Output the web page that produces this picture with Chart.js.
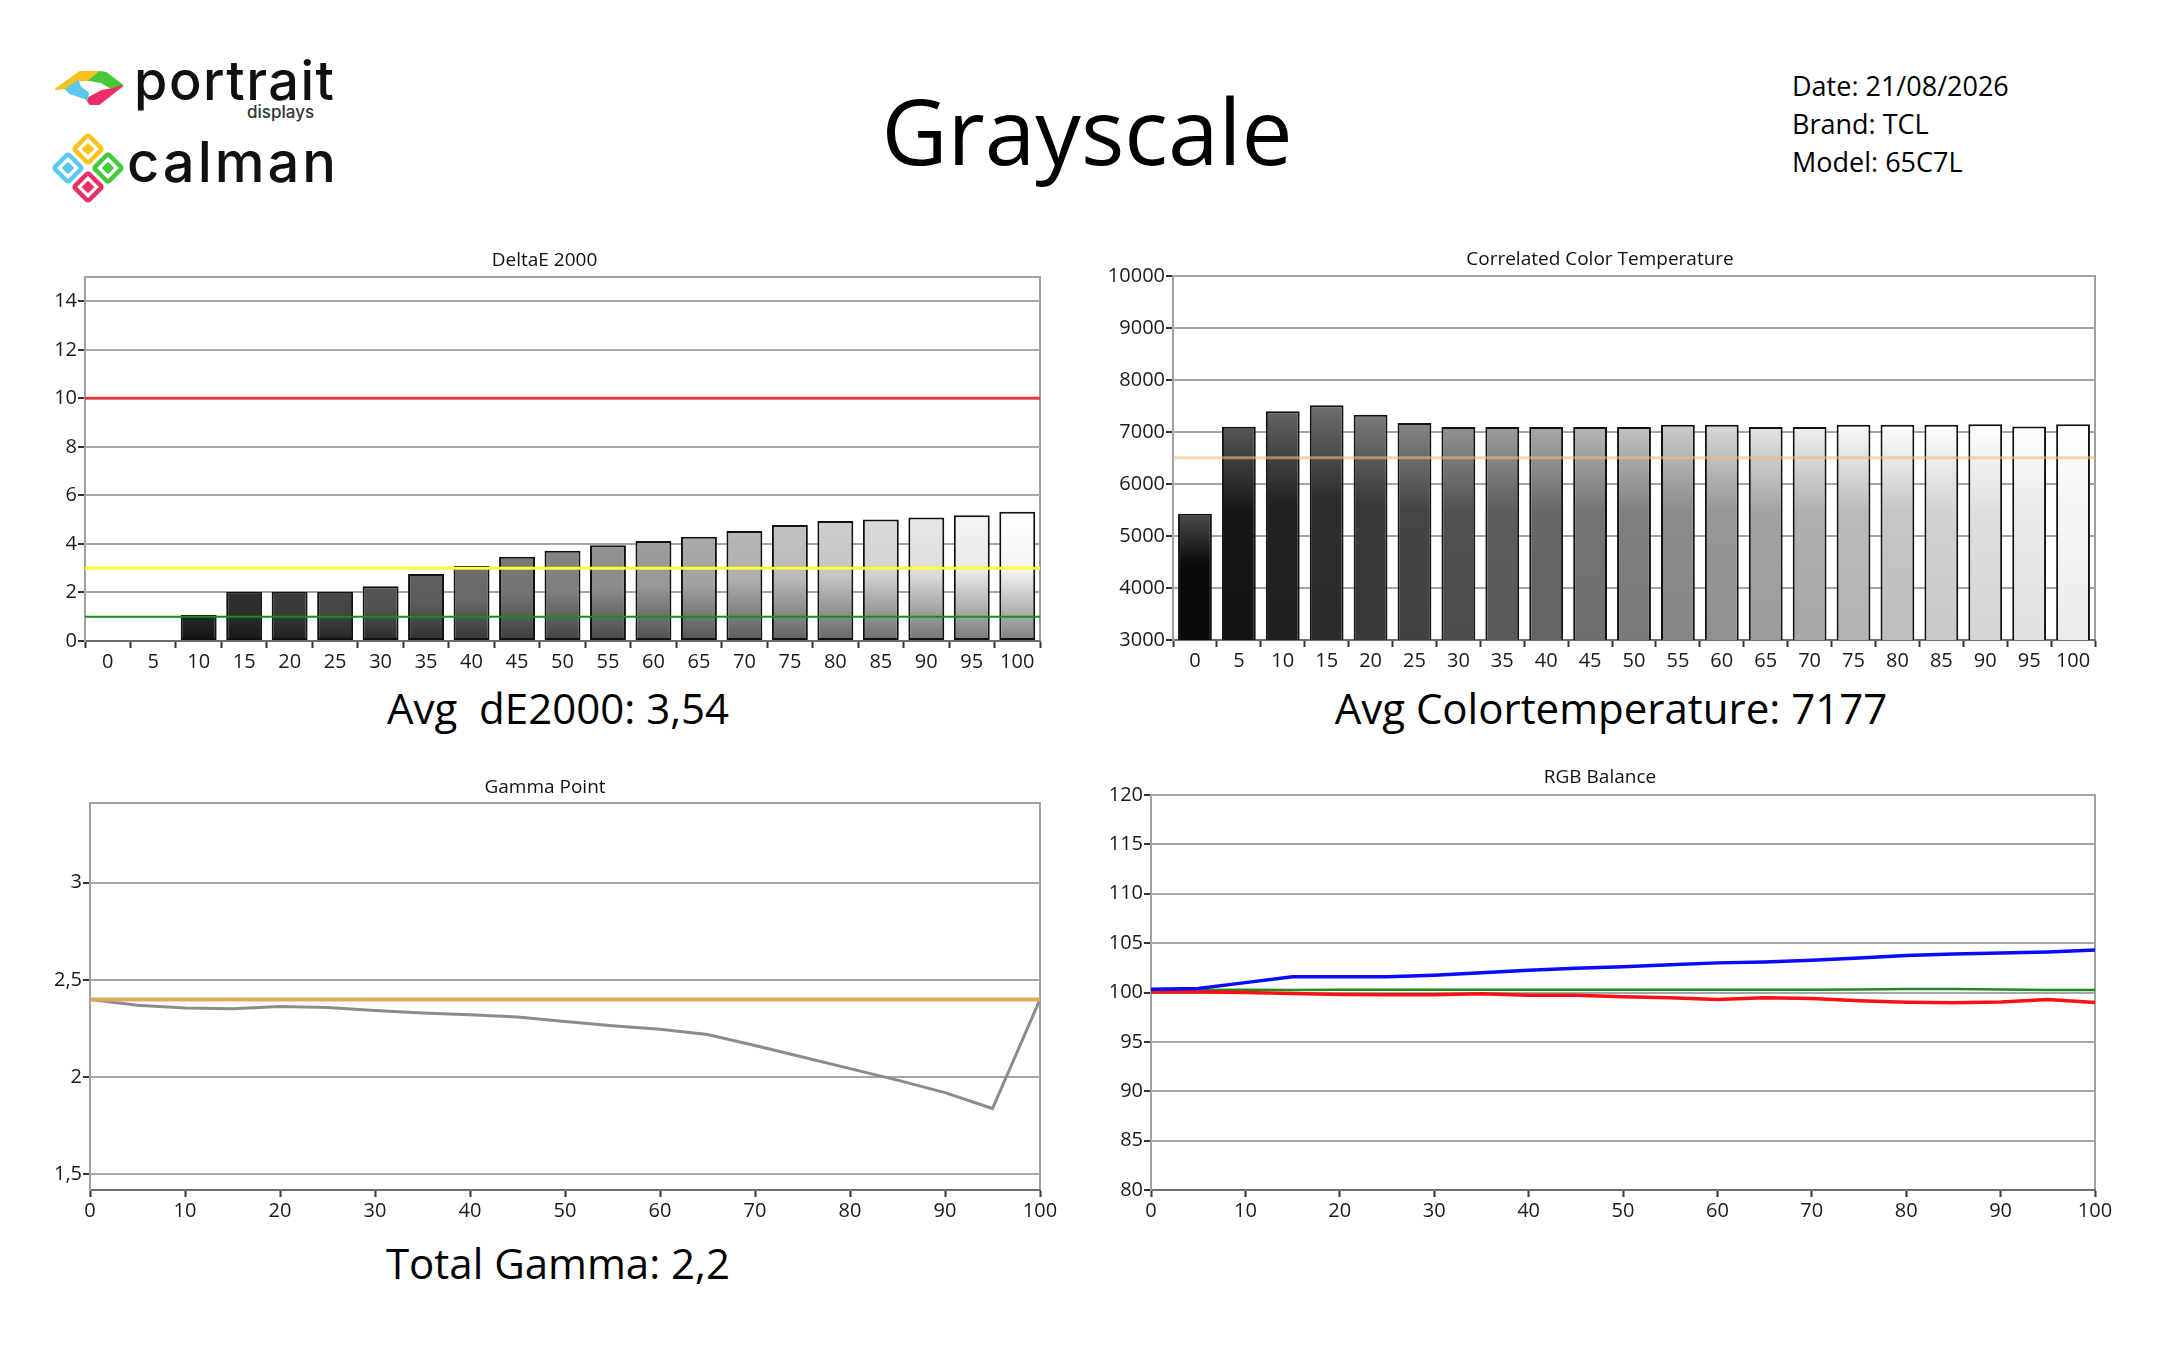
<!DOCTYPE html>
<html>
<head>
<meta charset="utf-8">
<title>Grayscale</title>
<script src="https://cdn.jsdelivr.net/npm/chart.js@4.4.1/dist/chart.umd.min.js"></script>
<style>
  html, body { margin: 0; padding: 0; background: #fff; }
  #page { position: relative; width: 2160px; height: 1350px; overflow: hidden; background: #fff; }
  #deco { position: absolute; left: 0; top: 0; }
  canvas { position: absolute; }
  #deco text { font-family: "Open Sans", "Noto Sans", sans-serif; fill: #000; white-space: pre; }
  #deco .logo { font-family: "Inter", "DejaVu Sans", sans-serif; font-weight: 600; fill: #111; }
</style>
</head>
<body>
<div id="page">
  <svg id="deco" width="2160" height="1350" viewBox="0 0 2160 1350" xmlns="http://www.w3.org/2000/svg">
    <!-- portrait displays mark -->
    <g transform="translate(55,70)" stroke-linejoin="round">
      <polygon points="1,19 25,2 45,2 35,10 23,10 11,18" fill="#f7c21b" stroke="#f7c21b" stroke-width="2"/>
      <polygon points="45,2 51,3 67,15 58,19 46,12 35,10" fill="#45c83a" stroke="#45c83a" stroke-width="2"/>
      <polygon points="67,16 44,34 35,34 32,29 47,21 58,19" fill="#ea2f68" stroke="#ea2f68" stroke-width="2"/>
      <polygon points="11,19 23,11 25,17 33,23 32,29 15,23" fill="#5cc8f2" stroke="#5cc8f2" stroke-width="2"/>
    </g>
    <text class="logo" x="134" y="100" font-size="54" letter-spacing="1.5" style="font-weight:500">portrait</text>
    <text class="logo" x="247" y="118" font-size="17" style="fill:#333;font-weight:500">displays</text>

    <!-- calman mark -->
    <g transform="translate(58,138)">
      <rect x="20" y="1" width="20" height="20" rx="2" transform="rotate(45 30 11)" fill="none" stroke="#f7c21b" stroke-width="4.5"/>
      <rect x="25.5" y="6.5" width="9" height="9" transform="rotate(45 30 11)" fill="#f7c21b"/>
      <rect x="40" y="20" width="20" height="20" rx="2" transform="rotate(45 50 30)" fill="none" stroke="#45c83a" stroke-width="4.5"/>
      <rect x="45.5" y="25.5" width="9" height="9" transform="rotate(45 50 30)" fill="#45c83a"/>
      <rect x="20" y="39" width="20" height="20" rx="2" transform="rotate(45 30 49)" fill="none" stroke="#ea2f68" stroke-width="4.5"/>
      <rect x="25.5" y="44.5" width="9" height="9" transform="rotate(45 30 49)" fill="#ea2f68"/>
      <rect x="0" y="20" width="20" height="20" rx="2" transform="rotate(45 10 30)" fill="none" stroke="#5cc8f2" stroke-width="4.5"/>
      <rect x="5.5" y="25.5" width="9" height="9" transform="rotate(45 10 30)" fill="#5cc8f2"/>
    </g>
    <text class="logo" x="127" y="182" font-size="56" letter-spacing="3" style="font-weight:500">calman</text>

    <text x="1087" y="165" font-size="91" text-anchor="middle">Grayscale</text>

    <text x="1792" y="96" font-size="27">Date: 21/08/2026</text>
    <text x="1792" y="134" font-size="27">Brand: TCL</text>
    <text x="1792" y="172" font-size="27">Model: 65C7L</text>

    <text x="558" y="724" font-size="42" text-anchor="middle">Avg  dE2000: 3,54</text>
    <text x="1611" y="724" font-size="42" text-anchor="middle">Avg Colortemperature: 7177</text>
    <text x="558" y="1279" font-size="42" text-anchor="middle">Total Gamma: 2,2</text>
  </svg>

  <canvas id="deChart" width="1055" height="442" style="left:0;top:249px"></canvas>
  <canvas id="cctChart" width="1030" height="442" style="left:1080px;top:248px"></canvas>
  <canvas id="gammaChart" width="1065" height="464" style="left:0;top:776px"></canvas>
  <canvas id="rgbChart" width="1040" height="474" style="left:1080px;top:766px"></canvas>
</div>

<script>
// stimulus levels, % white
const levels = [0, 5, 10, 15, 20, 25, 30, 35, 40, 45, 50, 55, 60, 65, 70, 75, 80, 85, 90, 95, 100];
const levelLabels = levels.map(String);
const xTicks = [0, 10, 20, 30, 40, 50, 60, 70, 80, 90, 100];

// DeltaE 2000
const deltaE = [0, 0, 1.07, 2.03, 2.03, 2.03, 2.26, 2.76, 3.09, 3.47, 3.72, 3.95, 4.12, 4.30, 4.53, 4.78, 4.94, 5.01, 5.09, 5.18, 5.33];
const deLimits = [10, 3, 1];
const deTicks = [0, 2, 4, 6, 8, 10, 12, 14];

// correlated colour temperature (K)
const cct = [5430, 7100, 7400, 7515, 7330, 7175, 7095, 7095, 7095, 7095, 7095, 7140, 7140, 7095, 7095, 7140, 7140, 7140, 7150, 7105, 7150];
const cctTarget = [6504];
const cctTicks = [3000, 4000, 5000, 6000, 7000, 8000, 9000, 10000];

// gamma point
const gamma = [2.40, 2.37, 2.356, 2.352, 2.363, 2.358, 2.343, 2.33, 2.321, 2.31, 2.286, 2.264, 2.246, 2.22, 2.163, 2.104, 2.044, 1.985, 1.921, 1.839, 2.40];
const gammaTarget = 2.4;
const gammaTicks = [1.5, 2, 2.5, 3];

// RGB balance (%)
const rgbRed = [100.05, 100.05, 100.0, 99.9, 99.8, 99.76, 99.76, 99.87, 99.73, 99.73, 99.56, 99.46, 99.3, 99.46, 99.4, 99.16, 99.02, 98.95, 99.05, 99.3, 98.99];
const rgbGreen = [100.1, 100.25, 100.27, 100.25, 100.27, 100.27, 100.27, 100.27, 100.27, 100.27, 100.27, 100.27, 100.27, 100.27, 100.27, 100.3, 100.35, 100.35, 100.3, 100.25, 100.25];
const rgbBlue = [100.34, 100.4, 101.0, 101.6, 101.6, 101.6, 101.75, 102.0, 102.25, 102.45, 102.6, 102.8, 103.0, 103.1, 103.27, 103.5, 103.75, 103.9, 104.0, 104.1, 104.3];
const rgbTicks = [80, 85, 90, 95, 100, 105, 110, 115, 120];

Chart.defaults.font.family = "'Open Sans', 'Noto Sans', sans-serif";
Chart.defaults.font.size = 20;
Chart.defaults.color = "#1a1a1a";
Chart.defaults.animation = false;
Chart.defaults.plugins.legend.display = false;
Chart.defaults.plugins.tooltip.enabled = false;

function shade(g) {
  g = Math.max(0, Math.min(255, Math.round(g)));
  return "rgb(" + g + "," + g + "," + g + ")";
}

// per-bar vertical gradient, lighter at the top
function barFill(stops, span) {
  return function (c) {
    const chart = c.chart;
    const g = 10 + c.dataIndex * span / (levels.length - 1);
    if (!chart.chartArea || !c.parsed) return shade(g);
    const y = chart.scales.y;
    const top = y.getPixelForValue(c.parsed.y);
    const bottom = y.getPixelForValue(y.min);
    if (!(bottom - top > 1)) return shade(g);
    const grad = chart.ctx.createLinearGradient(0, top, 0, bottom);
    stops.forEach(s => grad.addColorStop(s[0], shade(g * s[1] + s[2])));
    return grad;
  };
}

// grey box round the plot area
const frame = {
  id: "frame",
  beforeDraw(chart) {
    const { ctx, chartArea: a } = chart;
    ctx.save();
    ctx.strokeStyle = "#a0a0a0";
    ctx.lineWidth = 2;
    ctx.strokeRect(a.left, a.top, a.right - a.left, a.bottom - a.top);
    ctx.restore();
  }
};

// full-width horizontal limit lines
function limitLines(lines) {
  return {
    id: "limitLines",
    afterDatasetsDraw(chart) {
      const { ctx, chartArea: a, scales: { y } } = chart;
      lines.forEach(l => {
        const py = y.getPixelForValue(l.value);
        ctx.save();
        ctx.strokeStyle = l.color;
        ctx.lineWidth = l.width;
        ctx.beginPath();
        ctx.moveTo(a.left, py);
        ctx.lineTo(a.right, py);
        ctx.stroke();
        ctx.restore();
      });
    }
  };
}

function yAxis(min, max, ticks, width, fmt) {
  return {
    min: min,
    max: max,
    afterBuildTicks: s => { s.ticks = ticks.map(v => ({ value: v })); },
    afterFit: s => { s.width = width; },
    ticks: { padding: 1, autoSkip: false, callback: fmt || (v => String(v)) },
    grid: { color: "#a6a6a6", lineWidth: 2, tickLength: 7, tickColor: "#333", tickWidth: 2 },
    border: { color: "#a0a0a0", width: 2 }
  };
}

function xCategory() {
  return {
    afterFit: s => { s.height = 50; },
    ticks: { padding: 2, autoSkip: false, maxRotation: 0 },
    grid: { drawOnChartArea: false, offset: true, tickLength: 7, tickColor: "#333", tickWidth: 2 },
    border: { color: "#6e6e6e", width: 2 }
  };
}

function xLinear() {
  return {
    type: "linear",
    min: 0,
    max: 100,
    afterBuildTicks: s => { s.ticks = xTicks.map(v => ({ value: v })); },
    afterFit: s => { s.height = 50; },
    ticks: { padding: 2, autoSkip: false, maxRotation: 0 },
    grid: { drawOnChartArea: false, tickLength: 7, tickColor: "#333", tickWidth: 2 },
    border: { color: "#6e6e6e", width: 2 }
  };
}

function title(text, gap) {
  return { display: true, text: text, color: "#111", font: { size: 19, weight: "normal" }, padding: { top: 0, bottom: gap } };
}

const toXY = ys => levels.map((x, i) => ({ x: x, y: ys[i] }));

new Chart(document.getElementById("deChart"), {
  type: "bar",
  data: {
    labels: levelLabels,
    datasets: [{
      data: deltaE,
      backgroundColor: barFill([[0, 1, 0], [0.45, 0.96, 0], [1, 0.5, 0]], 245),
      borderColor: "#111",
      borderWidth: c => (c.raw > 0 ? 2 : 0),
      borderSkipped: false,
      barPercentage: 0.79,
      categoryPercentage: 1
    }]
  },
  options: {
    responsive: false,
    layout: { padding: { left: 49, right: 15 } },
    plugins: { title: title("DeltaE 2000", 5.2) },
    scales: { x: xCategory(), y: yAxis(0, 15, deTicks, 36) }
  },
  plugins: [frame, limitLines([
    { value: deLimits[0], color: "rgba(230,40,40,0.85)", width: 3 },
    { value: deLimits[1], color: "#ffff33", width: 3 },
    { value: deLimits[2], color: "#159015", width: 2 }
  ])]
});

new Chart(document.getElementById("cctChart"), {
  type: "bar",
  data: {
    labels: levelLabels,
    datasets: [{
      data: cct,
      backgroundColor: barFill([[0, 1, 65], [0.4, 1, 0], [1, 0.96, 0]], 235),
      borderColor: "#111",
      borderWidth: 2,
      borderSkipped: false,
      barPercentage: 0.77,
      categoryPercentage: 1
    }]
  },
  options: {
    responsive: false,
    layout: { padding: { left: 25, right: 15 } },
    plugins: { title: title("Correlated Color Temperature", 5.2) },
    scales: { x: xCategory(), y: yAxis(3000, 10000, cctTicks, 68) }
  },
  plugins: [frame, limitLines([
    { value: cctTarget[0], color: "rgba(235,190,120,0.6)", width: 3 }
  ])]
});

new Chart(document.getElementById("gammaChart"), {
  type: "line",
  data: {
    datasets: [{
      data: [{ x: levels[0], y: gammaTarget }, { x: levels[levels.length - 1], y: gammaTarget }],
      borderColor: "#d6ad62",
      borderWidth: 4,
      pointRadius: 0
    }, {
      data: toXY(gamma),
      borderColor: "#8c8c8c",
      borderWidth: 3,
      pointRadius: 0,
      tension: 0
    }]
  },
  options: {
    responsive: false,
    layout: { padding: { left: 50, right: 25 } },
    plugins: { title: title("Gamma Point", 4.2) },
    scales: { x: xLinear(), y: yAxis(1.42, 3.41, gammaTicks, 40, v => String(v).replace(".", ",")) }
  },
  plugins: [frame]
});

new Chart(document.getElementById("rgbChart"), {
  type: "line",
  data: {
    datasets: [{
      data: toXY(rgbBlue),
      borderColor: "#0a0aff",
      borderWidth: 3.5,
      pointRadius: 0
    }, {
      data: toXY(rgbRed),
      borderColor: "#ff1010",
      borderWidth: 3.5,
      pointRadius: 0
    }, {
      data: toXY(rgbGreen),
      borderColor: "#1e8c1e",
      borderWidth: 2.5,
      pointRadius: 0
    }]
  },
  options: {
    responsive: false,
    layout: { padding: { left: 25, right: 25 } },
    plugins: { title: title("RGB Balance", 6.2) },
    scales: { x: xLinear(), y: yAxis(80, 120, rgbTicks, 46) }
  },
  plugins: [frame]
});
</script>
</body>
</html>
